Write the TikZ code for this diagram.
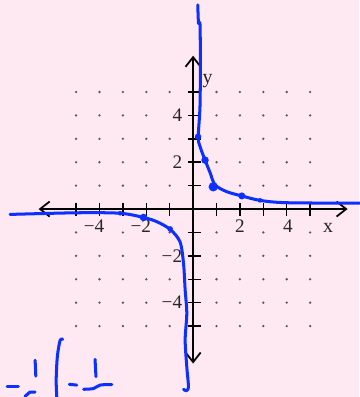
\documentclass[tikz,border=0pt]{standalone}
\usepackage{fontspec}
\setmainfont{Liberation Serif}
\usetikzlibrary{arrows.meta}
\definecolor{bgpink}{RGB}{254,232,242}
\definecolor{penblue}{RGB}{12,48,255}

\begin{document}
\begin{tikzpicture}[x=0.6cm, y=0.6cm,
    % --- styles ---
    axis/.style={line width=1.3pt, {Straight Barb[length=7pt,width=11pt]}-{Straight Barb[length=7pt,width=11pt]}},
    tickmark/.style={line width=1.1pt},
    griddot/.style={fill=black!65},
    ticklabel/.style={font=\fontsize{14}{16}\selectfont, text=black!85, inner sep=1pt},
    axislabel/.style={font=\fontsize{14.5}{16}\selectfont, text=black!85, inner sep=1pt},
    ink/.style={penblue, line width=2.2pt, line cap=round, line join=round},
    inkdot/.style={fill=penblue}
]

    % --- background and frame ---
    \fill[bgpink] (-8.25,-8.03) rectangle (7.09,8.93);
    \useasboundingbox (-8.25,-8.03) rectangle (7.09,8.93);

    % =========================================
    % grid of dots (labels sit on some of them)
    % =========================================
    \foreach \i in {-5,...,5}{
        \foreach \j in {-5,...,5}{
            \def\dotok{1}
            \ifnum\i=0 \def\dotok{0}\fi
            \ifnum\j=0 \def\dotok{0}\fi
            \ifnum\i=-1 \ifodd\j\else\def\dotok{0}\fi\fi
            \ifnum\j=-1 \ifodd\i\else\def\dotok{0}\fi\fi
            \ifnum\dotok=1 \fill[griddot] (\i,\j) circle (0.055);\fi
        }
    }

    % =========================================
    % axes
    % =========================================
    \coordinate (xleft)  at (-6.6, 0);
    \coordinate (xright) at ( 6.6, 0);
    \coordinate (ybot)   at (0, -6.6);
    \coordinate (ytop)   at (0,  6.55);

    \draw[axis] (xleft) -- (xright);
    \draw[axis] (ybot) -- (ytop);

    % ticks
    \foreach \k in {-5,-4,-3,-2,-1,1,2,3,4,5}{
        \draw[tickmark] (\k,0.27) -- (\k,-0.3);
        \draw[tickmark] (-0.22,\k) -- (0.34,\k);
    }

    % tick labels
    \node[ticklabel] (xm4) at (-4,-0.72) {\llap{−}4};
    \node[ticklabel] (xm2) at (-2,-0.72) {\llap{−}2};
    \node[ticklabel] (xp2) at ( 2,-0.72) {2};
    \node[ticklabel] (xp4) at ( 4.05,-0.72) {4};

    \node[ticklabel, anchor=east] (yp4) at (-0.4, 4) {4};
    \node[ticklabel, anchor=east] (yp2) at (-0.4, 2) {2};
    \node[ticklabel, anchor=east] (ym2) at (-0.4,-2) {−2};
    \node[ticklabel, anchor=east] (ym4) at (-0.4,-4) {−4};

    \node[axislabel] (xname) at (5.77,-0.82) {x};
    \node[axislabel] (yname) at (0.62, 5.45) {y};

    % =========================================
    % hand drawn curve (pen)
    % =========================================
    % upper branch
    \draw[ink] plot[smooth, tension=0.5] coordinates {
        (0.2,8.72) (0.23,7.94) (0.3,7.75) (0.3,4.6) (0.22,3.09)
        (0.3,2.66) (0.51,2.09) (0.73,1.54) (0.94,1.03) (1.44,0.74)
        (2.08,0.56) (2.86,0.37) (4.0,0.27) (7.2,0.25)};
    \fill[inkdot] (0.21,3.09) circle (0.14);
    \fill[inkdot] (0.51,2.09) circle (0.16);
    \fill[inkdot] (0.86,0.95) circle (0.2);
    \fill[inkdot] (2.08,0.56) circle (0.15);
    \fill[inkdot] (2.86,0.37) circle (0.1);

    % lower branch
    \draw[ink] plot[smooth, tension=0.5] coordinates {
        (-7.82,-0.23) (-4.97,-0.16) (-3.12,-0.18) (-2.12,-0.36)
        (-1.55,-0.54) (-0.98,-0.87) (-0.56,-1.4) (-0.41,-2.32)
        (-0.34,-3.46) (-0.27,-4.46) (-0.34,-5.6) (-0.27,-6.74)
        (-0.2,-7.6) (-0.3,-7.76) (-0.41,-7.7)};
    \fill[inkdot] (-3.12,-0.18) circle (0.1);
    \fill[inkdot] (-2.12,-0.36) circle (0.16);
    \fill[inkdot] (-0.98,-0.85) circle (0.12);

    % scribbles bottom left
    \draw[ink] (-7.95,-7.6) -- (-7.47,-7.6);
    \draw[ink] (-6.75,-6.46) -- (-6.72,-7.14);
    \draw[ink] (-7.18,-8.0) -- (-6.97,-7.82) -- (-6.75,-7.82);
    \draw[ink] plot[smooth] coordinates {(-5.57,-5.57) (-5.68,-5.6) (-5.8,-6.3) (-5.85,-7.31) (-5.82,-8.1)};
    \draw[ink] (-5.29,-7.49) -- (-4.97,-7.52);
    \draw[ink] (-4.19,-6.42) -- (-4.15,-7.16);
    \draw[ink] plot[smooth] coordinates {(-4.68,-7.7) (-4.26,-7.67) (-3.97,-7.52) (-3.47,-7.5)};

\end{tikzpicture}
\end{document}
